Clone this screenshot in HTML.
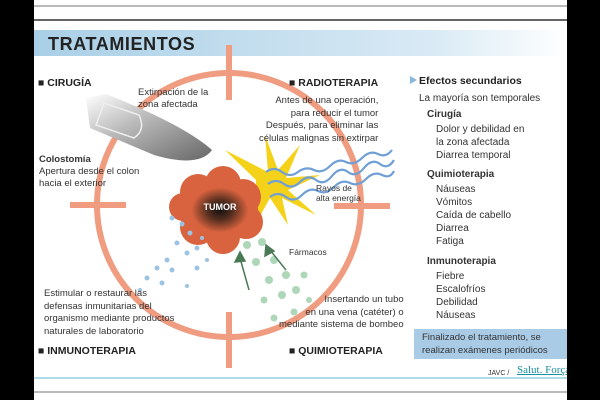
<!DOCTYPE html><html><head><meta charset="utf-8"><style>
body{margin:0;width:600px;height:400px;overflow:hidden;background:#000;font-family:"Liberation Sans",sans-serif;}
#w{position:absolute;left:34px;top:0;width:533px;height:400px;background:#fff;overflow:hidden}
.t{position:absolute;font-size:9.5px;line-height:12px;color:#333;white-space:nowrap}
.h{position:absolute;font-size:10.5px;font-weight:bold;color:#222;white-space:nowrap}
</style></head><body><div id="w">
<svg width="533" height="400" style="position:absolute;left:0;top:0">
<defs><linearGradient id="g" x1="0" x2="1"><stop offset="0" stop-color="#a9cfe6"/><stop offset="0.75" stop-color="#d9eaf5"/><stop offset="1" stop-color="#fff"/></linearGradient>
<radialGradient id="tg"><stop offset="0" stop-color="#111"/><stop offset="0.35" stop-color="#5a3020"/><stop offset="0.75" stop-color="#d9633f"/></radialGradient>
<linearGradient id="kn" x1="0" y1="0" x2="1" y2="1"><stop offset="0" stop-color="#fff"/><stop offset="0.4" stop-color="#bbb"/><stop offset="1" stop-color="#666"/></linearGradient></defs>
<line x1="0" y1="6" x2="533" y2="6" stroke="#bbb" stroke-width="2"/>
<line x1="0" y1="20" x2="533" y2="20" stroke="#666" stroke-width="2"/>
<rect x="0" y="30" width="533" height="26" fill="url(#g)"/>
<g stroke="#ef9c80" stroke-width="6" fill="none">
<circle cx="195" cy="205" r="132"/>
<line x1="195" y1="45" x2="195" y2="100"/><line x1="195" y1="312" x2="195" y2="368"/>
<line x1="36" y1="205" x2="92" y2="205"/><line x1="300" y1="206" x2="356" y2="206"/></g>
<path d="M52 98 L72 94 Q150 125 178 150 Q165 168 120 155 L56 128 Z" fill="url(#kn)"/>
<path d="M70 103 L105 115 Q112 130 100 138 L62 125Z" fill="none" stroke="#eee" stroke-width="1.5"/>
<g transform="translate(-14,0)" fill="#f5d21a"><polygon points="236,180 205,150 248,172 245,135 258,170 280,145 266,178 300,175 268,190 296,215 262,198 268,225 250,198 235,225"/></g>
<g stroke="#6f9fd6" stroke-width="2.2" fill="none">
<path d="M232 172 q8-6 16 0 t16 0 t16-2 t16-4 t16-4 t16-4 t16-4 t14-4"/>
<path d="M234 184 q8-6 16 0 t16-2 t16-2 t16-4 t16-4 t16-4 t16-4 t14-4"/>
<path d="M236 197 q8-6 16 0 t16-2 t16-4 t16-4 t16-4 t16-4 t16-4 t12-4"/>
</g>
<g transform="translate(-26,2)">
<g fill="#d9633f"><circle cx="190" cy="190" r="18"/><circle cx="215" cy="182" r="18"/><circle cx="235" cy="195" r="18"/><circle cx="238" cy="220" r="17"/><circle cx="215" cy="235" r="17"/><circle cx="190" cy="225" r="18"/><circle cx="175" cy="205" r="14"/></g>
<ellipse cx="212" cy="208" rx="38" ry="30" fill="url(#tg)"/></g>
<g transform="translate(-12,-2)" fill="#9cc3e3"><circle cx="150" cy="220" r="2.5"/><circle cx="160" cy="226" r="2.5"/><circle cx="168" cy="235" r="2.5"/><circle cx="175" cy="250" r="2.5"/><circle cx="165" cy="255" r="2.5"/><circle cx="155" cy="245" r="2.5"/><circle cx="145" cy="262" r="2.5"/><circle cx="135" cy="270" r="2.5"/><circle cx="150" cy="272" r="2.5"/><circle cx="175" cy="270" r="2.5"/><circle cx="185" cy="262" r="2"/><circle cx="125" cy="280" r="2.5"/><circle cx="140" cy="285" r="2.5"/><circle cx="165" cy="288" r="2"/><circle cx="118" cy="292" r="2"/><circle cx="180" cy="240" r="2"/></g>
<g fill="#aed6b8"><circle cx="213" cy="245" r="4"/><circle cx="228" cy="242" r="4"/><circle cx="222" cy="262" r="4"/><circle cx="240" cy="260" r="4"/><circle cx="252" cy="275" r="4"/><circle cx="235" cy="280" r="4"/><circle cx="248" cy="295" r="4"/><circle cx="262" cy="290" r="4"/><circle cx="270" cy="275" r="3.5"/><circle cx="230" cy="300" r="3.5"/><circle cx="260" cy="312" r="3.5"/><circle cx="240" cy="318" r="3.5"/><circle cx="275" cy="300" r="3"/></g>
<g stroke="#4a7a55" stroke-width="1.5" fill="#4a7a55"><line x1="215" y1="290" x2="206" y2="258"/><polygon points="206,252 201,262 211,261"/><line x1="252" y1="270" x2="236" y2="250"/><polygon points="232,245 231,256 240,251"/></g>
<line x1="0" y1="378" x2="533" y2="378" stroke="#8fd3dd" stroke-width="1.5"/>
<line x1="0" y1="392" x2="533" y2="392" stroke="#bbb" stroke-width="2"/>
<polygon points="376,76 383,80 376,84" fill="#8ab7dd"/>
<rect x="380" y="329" width="153" height="30" fill="#a9cbe6"/>
</svg>
<div style="position:absolute;left:14px;top:34px;font-size:18px;font-weight:bold;color:#222;letter-spacing:0.6px">TRATAMIENTOS</div>
<div class="h" style="left:4px;top:77px">■ CIRUGÍA</div>
<div class="h" style="left:255px;top:77px">■ RADIOTERAPIA</div>
<div class="h" style="left:4px;top:345px">■ INMUNOTERAPIA</div>
<div class="h" style="left:255px;top:345px">■ QUIMIOTERAPIA</div>
<div class="t" style="left:104px;top:87px">Extirpación de la<br>zona afectada</div>
<div class="t" style="left:5px;top:154px"><b>Colostomía</b><br>Apertura desde el colon<br>hacia el exterior</div>
<div class="t" style="left:225px;top:95px;text-align:right;line-height:12.5px">Antes de una operación,<br>para reducir el tumor<br>Después, para eliminar las<br>células malignas sin extirpar</div>
<div class="t" style="left:282px;top:183px;font-size:8.5px;line-height:10px">Rayos de<br>alta energía</div>
<div class="t" style="left:255px;top:246px;font-size:8.5px">Fármacos</div>
<div class="t" style="left:10px;top:288px;line-height:12.5px">Estimular o restaurar las<br>defensas inmunitarias del<br>organismo mediante productos<br>naturales de laboratorio</div>
<div class="t" style="left:245px;top:294px;text-align:right;line-height:12.5px">Insertando un tubo<br>en una vena (catéter) o<br>mediante sistema de bombeo</div>
<div class="h" style="left:385px;top:75px">Efectos secundarios</div>
<div class="t" style="left:385px;top:93px;font-size:10px">La mayoría son temporales</div>
<div class="t" style="left:393px;top:109px;font-size:10px"><b>Cirugía</b></div>
<div class="t" style="left:402px;top:123px;font-size:10px;line-height:13px">Dolor y debilidad en<br>la zona afectada<br>Diarrea temporal</div>
<div class="t" style="left:393px;top:169px;font-size:10px"><b>Quimioterapia</b></div>
<div class="t" style="left:402px;top:183px;font-size:10px;line-height:13px">Náuseas<br>Vómitos<br>Caída de cabello<br>Diarrea<br>Fatiga</div>
<div class="t" style="left:393px;top:256px;font-size:10px"><b>Inmunoterapia</b></div>
<div class="t" style="left:402px;top:270px;font-size:10px;line-height:13px">Fiebre<br>Escalofríos<br>Debilidad<br>Náuseas</div>
<div class="t" style="left:388px;top:331px;font-size:9.5px;line-height:13px">Finalizado el tratamiento, se<br>realizan exámenes periódicos</div>
<div class="t" style="left:454px;top:368px;font-size:7px">JAVC /</div>
<div class="t" style="left:483px;top:364px;font-size:11px;color:#1a8fa0;font-family:'Liberation Serif',serif;text-decoration:underline">Salut. Forçà</div>
<div style="position:absolute;left:144px;top:202px;width:84px;text-align:center;font-size:9px;font-weight:bold;color:#fff">TUMOR</div>
</div></body></html>
